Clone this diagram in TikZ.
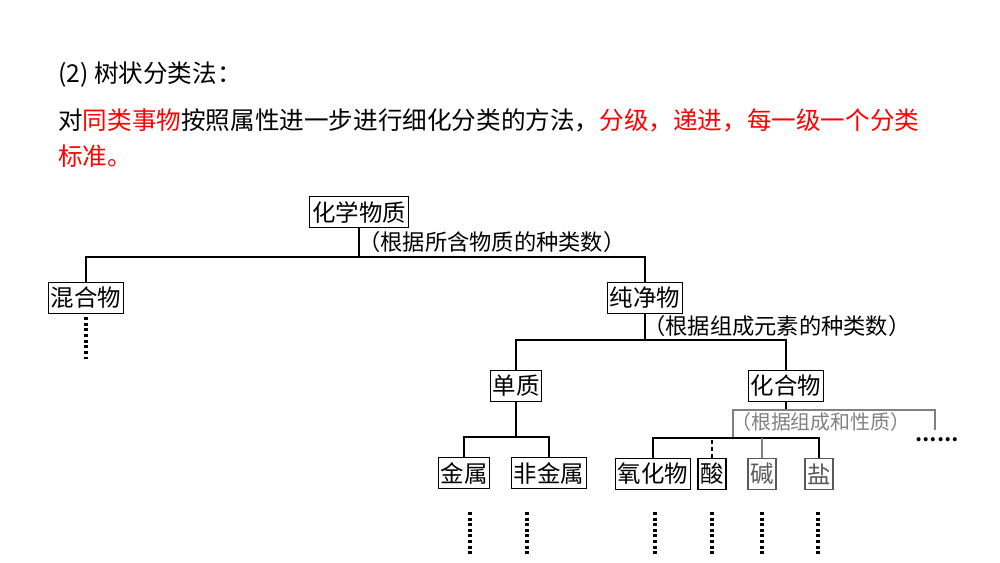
\documentclass[tikz,border=0pt]{standalone}
\usepackage{fontspec}
\usepackage{xcolor}
\setmainfont{Noto Sans CJK SC}
\usetikzlibrary{positioning}
\begin{document}
\begin{tikzpicture}[x=0.03cm,y=-0.03cm,
    box/.style = {draw, line width=1.2pt, inner ysep=1pt, inner xsep=2pt, minimum height=0.93cm, font=\fontsize{20}{20}\selectfont},
    lbl/.style = {anchor=west, inner sep=0pt, font=\fontsize{19}{19}\selectfont},
    txt/.style = {anchor=west, inner sep=0pt, font=\fontsize{21}{21}\selectfont},
    tree/.style = {line width=1.2pt},
    dots/.style = {line width=2.6pt, dash pattern=on 2.5pt off 2.3pt}
]
\useasboundingbox (0,0) rectangle (1000,563);
% text
\node (t1) [txt] at (58,75) {(2) 树状分类法：};
\node (t2) [txt] at (58,120) {对\textcolor{red}{同类事物}按照属性进一步进行细化分类的方法，\textcolor{red}{分级，递进，每一级一个分类}};
\node (t3) [txt, red] at (58,156) {标准。};
% nodes
\node (root) [box] at (359,212) {化学物质};
\node (l1) [lbl] at (358,242) {（根据所含物质的种类数）};
\node (mix) [box] at (86,298) {混合物};
\node (pure) [box] at (645,298) {纯净物};
\node (l2) [lbl] at (643,326) {（根据组成元素的种类数）};
\node (elem) [box] at (516,386) {单质};
\node (comp) [box] at (786,386) {化合物};
\node (l3) [lbl, gray, font=\fontsize{17}{17}\selectfont] at (731,422) {（根据组成和性质）};
\node (metal) [box] at (464,473) {金属};
\node (nonm) [box] at (549,473) {非金属};
\node (oxid) [box] at (653,474) {氧化物};
\node (acid) [box] at (712,474) {酸};
\node (base) [box, gray!70!black] at (762,474) {碱};
\node (salt) [box, gray!70!black] at (819,474) {盐};
\node (more) [font=\fontsize{16}{16}\selectfont\bfseries] at (937,440) {……};
% connectors
\coordinate (j1) at (359,257);
\draw[tree] (root.south) -- (j1);
\draw[tree] (mix.north) |- (j1) -| (pure.north);
\coordinate (j2) at (645,340);
\draw[tree] (pure.south) -- (j2);
\draw[tree] (elem.north) |- (j2) -| (comp.north);
\coordinate (j3) at (516,437);
\draw[tree] (elem.south) -- (j3);
\draw[tree] (metal.north) |- (j3) -| (nonm.north);
\coordinate (j4) at (786,410);
\coordinate (j5) at (733,410);
\coordinate (j6) at (935,410);
\coordinate (j7) at (935,430);
\coordinate (j8) at (733,438);
\draw[tree] (comp.south) -- (j4);
\draw[tree, gray] (j8) -- (j5) -- (j6) -- (j7);
\draw[tree] (oxid.north) |- (j8) -| (salt.north);
\draw[tree, dashed] (acid.north) -- (acid.north |- j8);
\draw[tree, gray] (base.north) -- (base.north |- j8);
% dotted continuations
\coordinate (d0) at (86,362);
\draw[dots] (mix.south) ++(0,3) -- (d0);
\foreach \x in {470,527,655,712,762,818}
    \draw[dots] (\x,512) -- (\x,555);
\end{tikzpicture}
\end{document}
